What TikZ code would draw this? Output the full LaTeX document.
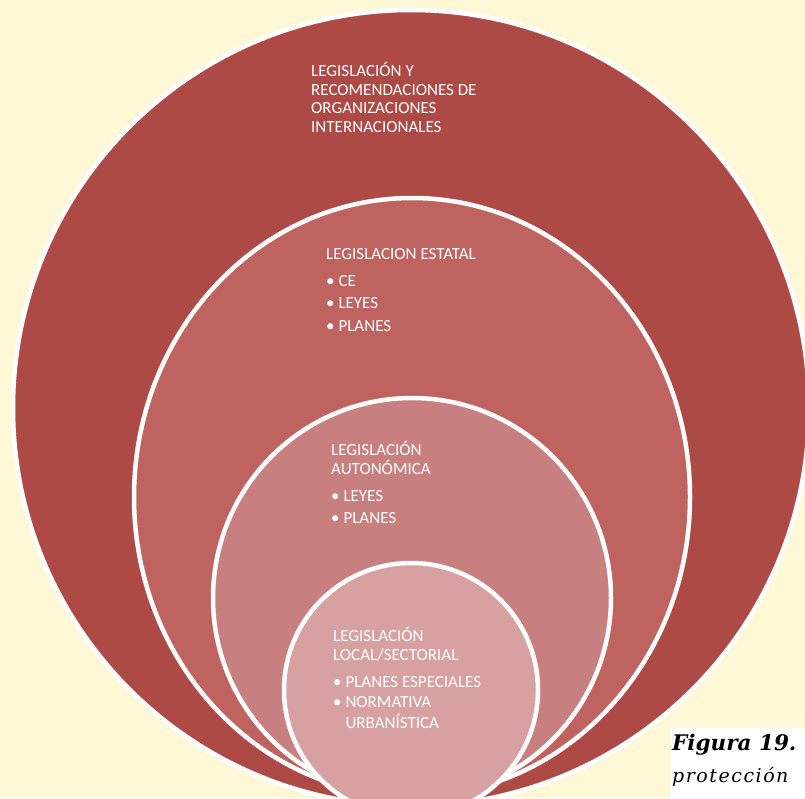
\documentclass[tikz,border=0pt]{standalone}
\usepackage{fontspec}
\setmainfont{Carlito}
\newfontfamily\capfont{DejaVu Serif}
\usetikzlibrary{positioning}

\definecolor{fondo}{RGB}{255,248,215}
\definecolor{rojoA}{RGB}{173,74,70}
\definecolor{rojoB}{RGB}{190,99,96}
\definecolor{rojoC}{RGB}{200,127,127}
\definecolor{rojoD}{RGB}{216,161,161}

\tikzset{
  ring/.style={draw=white, line width=4.5pt},
  rotulo/.style={anchor=base west, inner sep=0pt, text=white, align=left,
    font=\fontsize{17}{19}\selectfont},
}

\begin{document}
\begin{tikzpicture}[x=1pt,y=-1pt]
    \useasboundingbox (0,0) rectangle (805,798);
    \fill[fondo] (0,0) rectangle (805,798);

    \begin{scope}
        \clip (0,0) rectangle (805,798);
        \filldraw[ring, fill=rojoA] (411,408) ellipse (398 and 398);
        \filldraw[ring, fill=rojoB] (412,497) ellipse (278 and 299);
        \filldraw[ring, fill=rojoC] (412,598) ellipse (199 and 200);
        \filldraw[ring, fill=rojoD] (411,690) ellipse (127 and 127);
    \end{scope}

    % el ancla base queda en la ultima linea
    \node[rotulo] (intl) at (311,132)
        {LEGISLACIÓN Y\\[-0.5pt]RECOMENDACIONES DE\\[-0.5pt]ORGANIZACIONES\\[-0.5pt]INTERNACIONALES};
    \node[rotulo] (estatal) at (326,331)
        {LEGISLACION ESTATAL\\[8pt]\textbullet\ CE\\[3pt]\textbullet\ LEYES\\[4pt]\textbullet\ PLANES};
    \node[rotulo] (autonomica) at (331,523)
        {LEGISLACIÓN\\AUTONÓMICA\\[8pt]\textbullet\ LEYES\\[3pt]\textbullet\ PLANES};
    \node[rotulo] (local) at (333,728)
        {LEGISLACIÓN\\LOCAL/SECTORIAL\\[8pt]\textbullet\ PLANES ESPECIALES\\[1pt]\textbullet\ NORMATIVA\\[2pt]\hphantom{\textbullet\ }URBANÍSTICA};

    % pie de figura, cortado por el borde
    \fill[white] (671,728) rectangle (805,798);
    \begin{scope}
        \clip (0,0) rectangle (805,798);
        \node[anchor=base west, inner sep=0pt] (fig) at (672,750)
            {\capfont\bfseries\itshape\fontsize{21.5}{24}\selectfont Figura 19.};
        \node[anchor=base west, inner sep=0pt] (prot) at (672,782)
            {\capfont\itshape\fontsize{19}{22}\selectfont\addfontfeature{LetterSpace=8}protección};
    \end{scope}
\end{tikzpicture}
\end{document}
